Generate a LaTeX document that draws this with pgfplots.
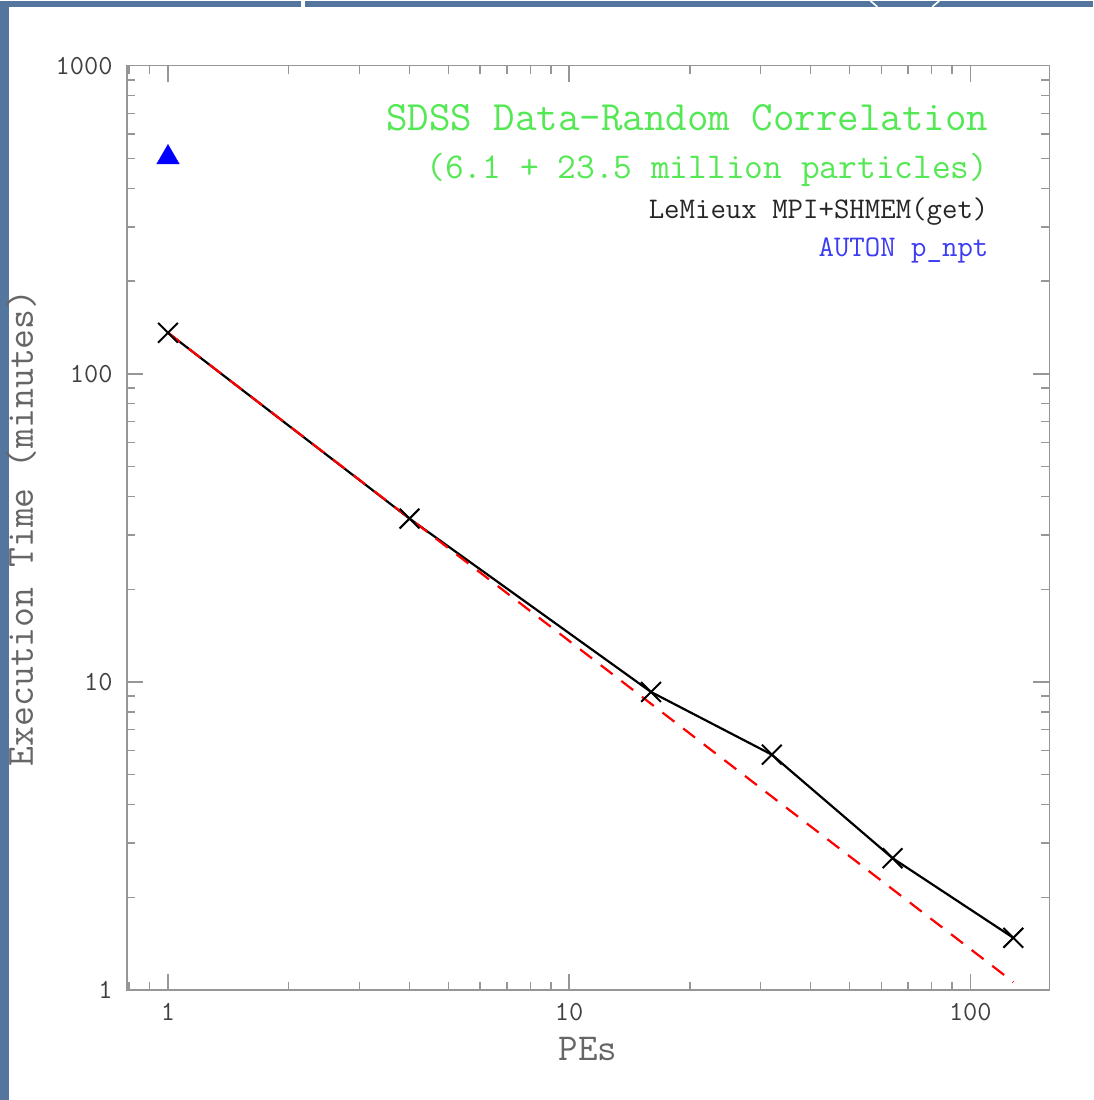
\documentclass[border=0pt]{standalone}
\usepackage{pgfplots}
\pgfplotsset{compat=1.18}
\definecolor{slideblue}{RGB}{84,117,158}
\definecolor{framegray}{RGB}{150,150,150}
\definecolor{titlegreen}{RGB}{85,232,85}
\definecolor{autonblue}{RGB}{60,60,240}
\newcommand{\monofont}[1]{\ttfamily\fontsize{#1}{#1}\selectfont}
\begin{document}
\begin{tikzpicture}
% slide background, in pixels of the reference (1px = 0.5pt)
\begin{scope}[x=0.5pt,y=-0.5pt,shift={(-127,-990)}]
  \fill[slideblue] (0,0) rectangle (1094,1100);
  \fill[white] (9,6) rectangle (1094,1100);
  \fill[white] (301,0) rectangle (305,6);
  \draw[white, line width=0.8pt] (871,0) -- (878,6);
  \draw[white, line width=0.8pt] (940,0) -- (933,6);
\end{scope}
\begin{axis}[
  at={(0,0)}, anchor=south west,
  scale only axis,
  width=461.5pt, height=462.5pt,
  xmode=log, ymode=log,
  xmin=0.79, xmax=157.3,
  ymin=1, ymax=1000,
  xtick={1,10,100}, xticklabels={1,10,100},
  ytick={1,10,100,1000}, yticklabels={1,10,100,1000},
  minor xtick={0.8,0.9,2,3,4,5,6,7,8,9,20,30,40,50,60,70,80,90},
  minor ytick={2,3,4,5,6,7,8,9,20,30,40,50,60,70,80,90,200,300,400,500,600,700,800,900},
  tick align=inside,
  major tick length=8pt, minor tick length=4pt,
  tick style={framegray, line width=0.7pt},
  axis line style={framegray, line width=0.7pt},
  xticklabel style={anchor=north, inner sep=0pt, yshift=-6.5pt, font=\monofont{13.8}, text=black!75},
  yticklabel style={anchor=east, inner sep=0pt, xshift=-7pt, font=\monofont{13.8}, text=black!75},
  xlabel={PEs},
  ylabel={Execution Time (minutes)},
  xlabel style={at={(axis description cs:0.5,-0.0757)}, anchor=base, inner sep=0pt, font=\monofont{19}, text=black!60},
  ylabel style={at={(axis description cs:-0.102,0.5)}, anchor=base, inner sep=0pt, font=\monofont{19.3}, text=black!60},
]
% LeMieux MPI+SHMEM(get)
\addplot[black, line width=1.1pt, mark=x, mark size=7pt, mark options={solid, line width=1pt}]
  coordinates {(1,135.9) (4,33.9) (16,9.28) (32,5.81) (64,2.68) (128,1.478)};
% ideal scaling
\addplot[red, line width=1.1pt, dash pattern=on 7.5pt off 5.5pt]
  coordinates {(1,135.9) (128,1.062)};
% AUTON p_npt
\addplot[only marks, blue, mark=triangle*, mark size=6.5pt, mark options={draw=blue, fill=blue, line width=0.2pt}]
  coordinates {(1,504)};

\node[anchor=base east, inner sep=0pt, font=\monofont{20.9}, text=titlegreen] at (rel axis cs:0.9345,0.930) {SDSS Data\textendash Random Correlation};
\node[anchor=base east, inner sep=0pt, font=\monofont{18.2}, text=titlegreen] at (rel axis cs:0.9345,0.878) {(6.1 + 23.5 million particles)};
\node[anchor=base east, inner sep=0pt, font=\monofont{15}, text=black!85] at (rel axis cs:0.9345,0.835) {LeMieux MPI+SHMEM(get)};
\node[anchor=base east, inner sep=0pt, font=\monofont{15}, text=autonblue] at (rel axis cs:0.9345,0.794) {AUTON p\_npt};
\end{axis}
\end{tikzpicture}
\end{document}
